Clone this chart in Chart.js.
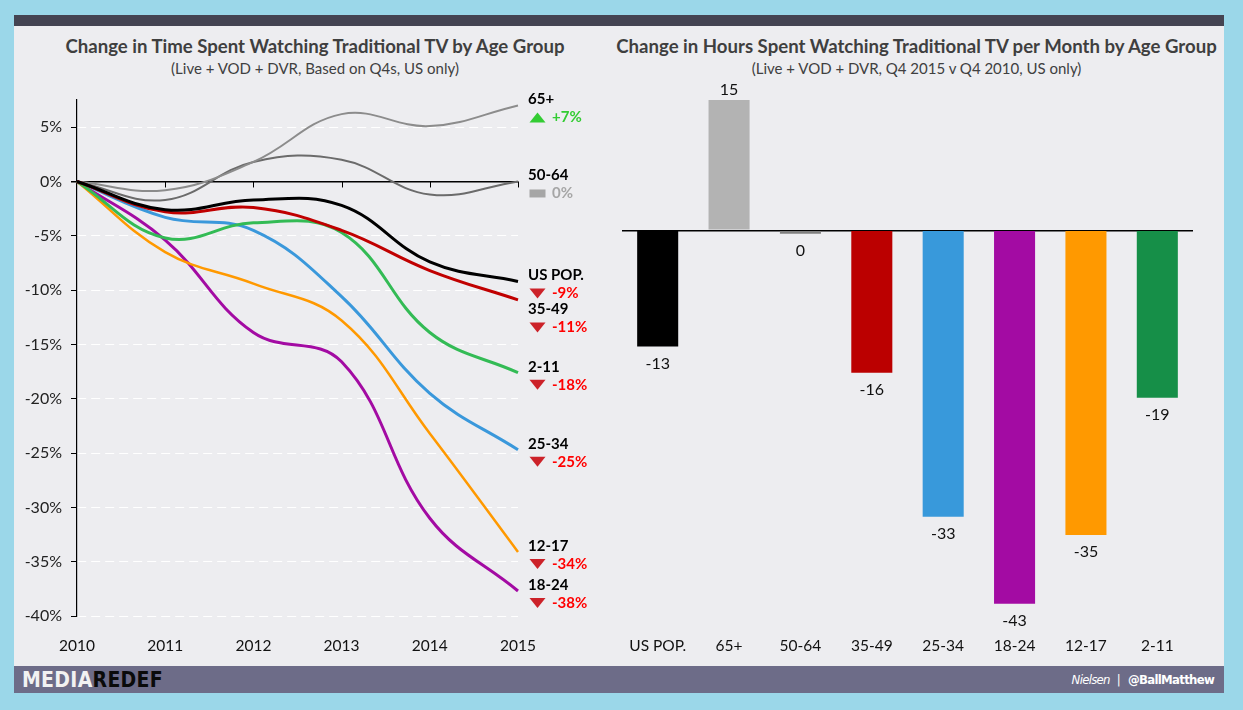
<!DOCTYPE html>
<html>
<head>
<meta charset="utf-8">
<script src="https://cdn.jsdelivr.net/npm/chart.js@4.4.1/dist/chart.umd.min.js"></script>
<style>
  body { margin: 0; background: #9bd7e9; font-family: Lato, "Open Sans", sans-serif; }
  #page { position: relative; width: 1243px; height: 710px; overflow: hidden; }
  .topbar { position: absolute; left: 14px; top: 15px; width: 1210px; height: 11px; background: #444452; }
  .panel { position: absolute; left: 14px; top: 26px; width: 1210px; height: 640px; background: #ededf0; }
  .footer { position: absolute; left: 14px; top: 666px; width: 1210px; height: 27px; background: #6d6c88; }
  .title { position: absolute; text-align: center; color: #3f3f3f; font-weight: bold; font-size: 18.6px; line-height: 22px; white-space: nowrap; }
  .sub { position: absolute; text-align: center; color: #404040; font-size: 15px; line-height: 18px; white-space: nowrap; }
  canvas { position: absolute; }
  .logo { position: absolute; left: 22px; top: 669px; font-family: "Liberation Sans Narrow", "DejaVu Sans Condensed", sans-serif; font-weight: bold; font-size: 21px; line-height: 22px; letter-spacing: 0.3px; }
  .logo .a { color: #f2f2f2; }
  .logo .b { color: #0a0a0a; }
  .credit { position: absolute; right: 29px; top: 671px; color: #fff; font-family: "Liberation Sans Narrow", "DejaVu Sans Condensed", sans-serif; font-size: 13px; line-height: 18px; letter-spacing: -0.7px; }
  .credit i { margin-right: 7px; }
  .credit b { margin-left: 8px; }
</style>
</head>
<body>
<div id="page">
  <div class="topbar"></div>
  <div class="panel"></div>
  <div class="footer"></div>

  <div class="title" style="left:30px;width:570px;top:35px;">Change in Time Spent Watching Traditional TV by Age Group</div>
  <div class="sub" style="left:30px;width:570px;top:59px;">(Live + VOD + DVR, Based on Q4s, US only)</div>
  <div class="title" style="left:616px;width:601px;top:35px;">Change in Hours Spent Watching Traditional TV per Month by Age Group</div>
  <div class="sub" style="left:616px;width:601px;top:59px;">(Live + VOD + DVR, Q4 2015 v Q4 2010, US only)</div>

  <canvas id="lineChart" width="596" height="640" style="left:14px;top:26px;"></canvas>
  <canvas id="barChart" width="614" height="640" style="left:610px;top:26px;"></canvas>

  <div class="logo"><span class="a">MEDIA</span><span class="b">REDEF</span></div>
  <div class="credit"><i>Nielsen</i>|<b>@BallMatthew</b></div>
</div>

<script>
// left chart: % change vs 2010
const years = ['2010', '2011', '2012', '2013', '2014', '2015'];
const usPop   = [0, -2.6, -1.7, -2.2, -7.4, -9.2];
const age65   = [0, -0.8, 1.8, 6.2, 5.1, 7.0];
const age5064 = [0, -1.7, 1.8, 2.0, -1.2, 0];
const age3549 = [0, -2.8, -2.4, -4.5, -8.2, -10.9];
const age2534 = [0, -3.3, -4.5, -10.6, -19.5, -24.7];
const age1824 = [0, -5.4, -13.9, -16.6, -31.0, -37.7];
const age1217 = [0, -6.5, -9.4, -12.8, -23.2, -34.1];
const age211  = [0, -5.2, -3.8, -4.7, -13.9, -17.6];
const yTicks = [5, 0, -5, -10, -15, -20, -25, -30, -35, -40];

// right chart: hours per month, Q4 2015 v Q4 2010
const barGroups = ['US POP.', '65+', '50-64', '35-49', '25-34', '18-24', '12-17', '2-11'];
const hoursChange = [-13.4, 15.1, -0.4, -16.4, -33.0, -43.0, -35.1, -19.3];

Chart.defaults.font.family = 'Lato, "Open Sans", sans-serif';
Chart.defaults.animation = false;

const lineSeries = [
    { label: 'US POP.', data: usPop, color: '#000000', width: 3 },
    { label: '35-49', data: age3549, color: '#c00000', width: 3 },
    { label: '65+', data: age65, color: '#8c8c8c', width: 2 },
    { label: '50-64', data: age5064, color: '#6b6b6b', width: 2 },
    { label: '2-11', data: age211, color: '#33bb55', width: 3 },
    { label: '25-34', data: age2534, color: '#3a98db', width: 3 },
    { label: '12-17', data: age1217, color: '#ff9900', width: 2.5 },
    { label: '18-24', data: age1824, color: '#a30ba3', width: 3 }
];

// little tick marks under the zero line
const zeroTicks = {
    id: 'zeroTicks',
    beforeDatasetsDraw(chart) {
        const { ctx, scales: { x, y } } = chart;
        const y0 = y.getPixelForValue(0);
        ctx.save();
        ctx.strokeStyle = '#000';
        ctx.lineWidth = 1;
        for (let i = 1; i < years.length; i++) {
            const px = Math.round(x.getPixelForValue(i)) + 0.5;
            ctx.beginPath();
            ctx.moveTo(px, y0);
            ctx.lineTo(px, y0 + 6);
            ctx.stroke();
        }
        ctx.restore();
    }
};

// group name + arrow + % at the end of each line
const endLabels = {
    id: 'endLabels',
    afterDatasetsDraw(chart) {
        const { ctx, chartArea, scales } = chart;
        const last = years.length - 1;
        const items = chart.data.datasets.map(ds => ({
            name: ds.label,
            v: ds.data[last],
            y: scales.y.getPixelForValue(ds.data[last]) - 6
        })).sort((a, b) => a.y - b.y);
        for (let i = 1; i < items.length; i++) {
            if (items[i].y < items[i - 1].y + 34) items[i].y = items[i - 1].y + 34;
        }
        const x = chartArea.right + 10;
        ctx.save();
        ctx.textBaseline = 'middle';
        items.forEach(it => {
            ctx.font = 'bold 15px Lato, "Open Sans", sans-serif';
            ctx.fillStyle = '#000';
            ctx.fillText(it.name, x, it.y);

            const r = Math.round(it.v) || 0;
            const py = it.y + 18;
            const cx = x + 9.5;
            let col;
            ctx.beginPath();
            if (r > 0) {
                col = '#33cc33';
                ctx.fillStyle = col;
                ctx.moveTo(cx - 8, py + 5);
                ctx.lineTo(cx + 8, py + 5);
                ctx.lineTo(cx, py - 5);
                ctx.fill();
            } else if (r < 0) {
                col = '#ff0000';
                ctx.fillStyle = '#cc2229';
                ctx.moveTo(cx - 8, py - 5);
                ctx.lineTo(cx + 8, py - 5);
                ctx.lineTo(cx, py + 5);
                ctx.fill();
            } else {
                col = '#a6a6a6';
                ctx.fillStyle = col;
                ctx.fillRect(cx - 8, py - 4, 16, 8);
            }
            ctx.font = 'bold 15px Lato, "Open Sans", sans-serif';
            ctx.fillStyle = col;
            ctx.fillText((r > 0 ? '+' : '') + r + '%', x + 24, py);
        });
        ctx.restore();
    }
};

new Chart(document.getElementById('lineChart'), {
    type: 'line',
    data: {
        labels: years,
        datasets: lineSeries.map(s => ({
            label: s.label,
            data: s.data,
            borderColor: s.color,
            borderWidth: s.width,
            pointRadius: 0,
            tension: 0.4,
            fill: false
        }))
    },
    options: {
        responsive: false,
        layout: { padding: { top: 74, right: 92, bottom: 11, left: 0 } },
        plugins: { legend: { display: false }, tooltip: { enabled: false } },
        scales: {
            x: {
                offset: false,
                afterFit: s => { s.height = 39; },
                grid: { display: false, drawTicks: false },
                border: { display: false },
                ticks: { color: '#111', font: { size: 15.5 }, padding: 21, maxRotation: 0 }
            },
            y: {
                min: -40,
                max: 7.5,
                afterBuildTicks: s => { s.ticks = yTicks.map(v => ({ value: v })); },
                afterFit: s => { s.width = 63; },
                grid: {
                    color: c => (c.tick && c.tick.value === 0 ? '#000' : '#ffffff'),
                    lineWidth: c => (c.tick && c.tick.value === 0 ? 1.5 : 1),
                    tickColor: '#000',
                    tickLength: 6,
                    tickBorderDash: []
                },
                border: {
                    display: true,
                    color: '#000',
                    width: 1.2,
                    dash: c => (c.tick && c.tick.value === 0 ? [] : [9, 5])
                },
                ticks: {
                    color: '#222',
                    font: { size: 16 },
                    padding: 9,
                    callback: v => v + '%'
                }
            }
        }
    },
    plugins: [zeroTicks, endLabels]
});

const barColors = ['#000000', '#b3b3b3', '#808080', '#bb0000', '#3899db', '#a30ba3', '#ff9900', '#168f48'];

const barValues = {
    id: 'barValues',
    afterDatasetsDraw(chart) {
        const { ctx } = chart;
        const meta = chart.getDatasetMeta(0);
        ctx.save();
        ctx.font = '16px Lato, "Open Sans", sans-serif';
        ctx.fillStyle = '#111';
        ctx.textAlign = 'center';
        ctx.textBaseline = 'middle';
        meta.data.forEach((bar, i) => {
            const v = hoursChange[i];
            const txt = String(Math.round(v) || 0);
            ctx.fillText(txt, bar.x, v < 0 ? bar.y + 17 : bar.y - 9);
        });
        ctx.restore();
    }
};

new Chart(document.getElementById('barChart'), {
    type: 'bar',
    data: {
        labels: barGroups,
        datasets: [{
            data: hoursChange,
            backgroundColor: barColors,
            borderWidth: 0,
            categoryPercentage: 0.575,
            barPercentage: 1
        }]
    },
    options: {
        responsive: false,
        layout: { padding: { top: 74, right: 31, bottom: 11, left: 12 } },
        plugins: { legend: { display: false }, tooltip: { enabled: false } },
        scales: {
            x: {
                afterFit: s => { s.height = 34; },
                grid: { display: false, drawTicks: false },
                border: { display: false },
                ticks: { color: '#111', font: { size: 15.5 }, padding: 16, maxRotation: 0 }
            },
            y: {
                min: -45,
                max: 15,
                afterBuildTicks: s => { s.ticks = [{ value: 0 }]; },
                afterFit: s => { s.width = 0; },
                grid: {
                    color: c => (c.tick && c.tick.value === 0 ? '#000' : 'rgba(0,0,0,0)'),
                    lineWidth: 1.5,
                    drawTicks: false
                },
                border: { display: false },
                ticks: { display: false }
            }
        }
    },
    plugins: [barValues]
});
</script>
</body>
</html>
